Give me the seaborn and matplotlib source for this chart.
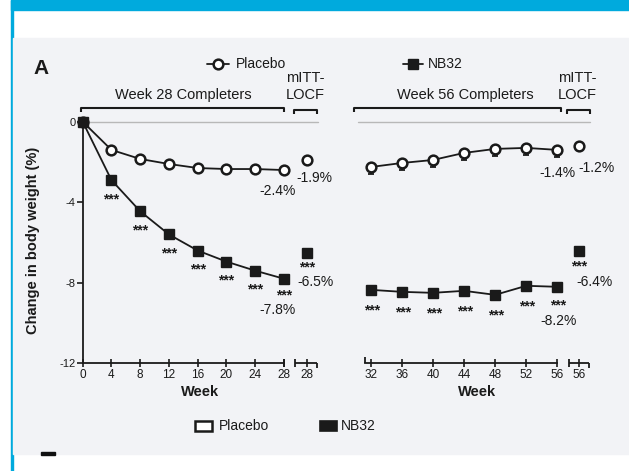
import matplotlib
matplotlib.use("Agg")
import matplotlib.pyplot as plt
import pandas as pd
import seaborn as sns
from matplotlib.lines import Line2D
from matplotlib.patches import Rectangle

# ---- data: mean change in body weight (%) ----
weeks_28 = [0, 4, 8, 12, 16, 20, 24, 28]
placebo_28 = [0.0, -1.4, -1.85, -2.1, -2.3, -2.35, -2.35, -2.4]
nb32_28 = [0.0, -2.9, -4.45, -5.6, -6.4, -6.95, -7.4, -7.8]

weeks_56 = [32, 36, 40, 44, 48, 52, 56]
placebo_56 = [-2.25, -2.05, -1.9, -1.55, -1.35, -1.3, -1.4]
placebo_56_sem = [0.35, 0.35, 0.35, 0.35, 0.35, 0.35, 0.35]
nb32_56 = [-8.35, -8.45, -8.5, -8.4, -8.6, -8.15, -8.2]

# mITT-LOCF endpoints (week 28, week 56)
locf_placebo = [-1.9, -1.2]
locf_nb32 = [-6.5, -6.4]

ticks_28 = ["0", "4", "8", "12", "16", "20", "24", "28", "28"]
ticks_56 = ["32", "36", "40", "44", "48", "52", "56", "56"]
yticks = [0, -4, -8, -12]
ytick_labels = ["0", "-4", "-8", "-12"]

sns.set_theme(style="white")
plt.rcParams["font.family"] = ["Liberation Sans", "DejaVu Sans"]

W, H = 629, 471
fig = plt.figure(figsize=(W / 100, H / 100), dpi=100)
fig.patch.set_facecolor("white")

INK = "#1a1a1a"
CYAN = "#00aadd"


def fx(x):
    return x / W


def fy(y):
    return 1 - y / H


# page decorations: banner, side rule, grey figure panel
fig.patches.append(Rectangle((fx(11), fy(10)), 1 - fx(11), 10 / H,
                             transform=fig.transFigure, color=CYAN, zorder=-2))
fig.patches.append(Rectangle((fx(10.5), 0), 2 / W, 1,
                             transform=fig.transFigure, color=CYAN, zorder=-2))
fig.patches.append(Rectangle((fx(13), fy(454)), 1 - fx(13), (454 - 38) / H,
                             transform=fig.transFigure, color="#f2f3f6", zorder=-2))
fig.patches.append(Rectangle((fx(41), fy(455)), 14 / W, 3 / H,
                             transform=fig.transFigure, color="#111111", zorder=-1))

# axes placement
y_lo, y_hi = -12, 0.2
ax1 = fig.add_axes([fx(82.7), fy(363.3), (318 - 82.7) / W, (363.3 - 117.7) / H])
ax2 = fig.add_axes([fx(365), fy(363.3), (590 - 365) / W, (363.3 - 117.7) / H])
for ax in (ax1, ax2):
    ax.set_facecolor("none")
    ax.set_ylim(y_lo, y_hi)
    for s in ("top", "right"):
        ax.spines[s].set_visible(False)

locf_x1 = 31.16
locf_x2 = 58.83
ax1.set_xlim(0, 32.73)
ax2.set_xlim(31.27, 60.19)

line_kw = dict(color=INK, linewidth=1.3)
pl_kw = dict(marker="o", markersize=7, markerfacecolor="white",
             markeredgecolor=INK, markeredgewidth=1.8)
nb_kw = dict(marker="s", markersize=6.5, markerfacecolor=INK,
             markeredgecolor=INK, markeredgewidth=1)

df28 = pd.DataFrame({"week": weeks_28, "placebo": placebo_28, "nb32": nb32_28})
df56 = pd.DataFrame({"week": weeks_56, "placebo": placebo_56, "nb32": nb32_56})

# zero reference lines
ax1.plot([0, 32.73], [0, 0], color="#b8b8b8", lw=1.0, zorder=1, clip_on=False)
ax2.plot([30.37, 60.19], [0, 0], color="#b8b8b8", lw=1.0, zorder=1, clip_on=False)

# completers curves
sns.lineplot(data=df28, x="week", y="placebo", ax=ax1, clip_on=False, zorder=3, **line_kw, **pl_kw)
sns.lineplot(data=df28, x="week", y="nb32", ax=ax1, clip_on=False, zorder=4, **line_kw, **nb_kw)
ax2.errorbar(weeks_56, placebo_56, yerr=[placebo_56_sem, [0] * len(weeks_56)],
             fmt="none", ecolor=INK, elinewidth=1.3, capsize=2.5, capthick=1.3, zorder=2)
sns.lineplot(data=df56, x="week", y="placebo", ax=ax2, clip_on=False, zorder=3, **line_kw, **pl_kw)
sns.lineplot(data=df56, x="week", y="nb32", ax=ax2, clip_on=False, zorder=4, **line_kw, **nb_kw)

# mITT-LOCF points
for ax, lx, i in ((ax1, locf_x1, 0), (ax2, locf_x2, 1)):
    ax.plot([lx], [locf_placebo[i]], linestyle="none", clip_on=False, zorder=3, **pl_kw)
    ax.plot([lx], [locf_nb32[i]], linestyle="none", clip_on=False, zorder=4, **nb_kw)

# significance stars beneath NB32 points
star_kw = dict(textcoords="offset pixels", ha="center", va="center",
               fontsize=10, color=INK, fontweight="bold")
for w, v in zip(weeks_28[1:-1], nb32_28[1:-1]):
    ax1.annotate("***", (w, v), xytext=(0, -19), **star_kw)
ax1.annotate("***", (weeks_28[-1], nb32_28[-1]), xytext=(0, -17), **star_kw)
for w, v in zip(weeks_56[:-1], nb32_56[:-1]):
    ax2.annotate("***", (w, v), xytext=(1, -21), **star_kw)
ax2.annotate("***", (weeks_56[-1], nb32_56[-1]), xytext=(1, -19), **star_kw)
ax1.annotate("***", (locf_x1, locf_nb32[0]), xytext=(0, -15), **star_kw)
ax2.annotate("***", (locf_x2, locf_nb32[1]), xytext=(0, -16), **star_kw)

# endpoint value labels
val_kw = dict(textcoords="offset pixels", ha="center", va="center",
              fontsize=10, color=INK)
ax1.annotate(f"{placebo_28[-1]:.1f}%", (weeks_28[-1], placebo_28[-1]), xytext=(-6, -21), **val_kw)
ax1.annotate(f"{nb32_28[-1]:.1f}%", (weeks_28[-1], nb32_28[-1]), xytext=(-6, -31), **val_kw)
ax1.annotate(f"{locf_placebo[0]:.1f}%", (locf_x1, locf_placebo[0]), xytext=(8, -18), **val_kw)
ax1.annotate(f"{locf_nb32[0]:.1f}%", (locf_x1, locf_nb32[0]), xytext=(9, -29), **val_kw)
ax2.annotate(f"{placebo_56[-1]:.1f}%", (weeks_56[-1], placebo_56[-1]), xytext=(0, -23), **val_kw)
ax2.annotate(f"{nb32_56[-1]:.1f}%", (weeks_56[-1], nb32_56[-1]), xytext=(1, -34), **val_kw)
ax2.annotate(f"{locf_placebo[1]:.1f}%", (locf_x2, locf_placebo[1]), xytext=(17, -22), **val_kw)
ax2.annotate(f"{locf_nb32[1]:.1f}%", (locf_x2, locf_nb32[1]), xytext=(15, -31), **val_kw)

# y axis (left panel only)
ax1.set_yticks(yticks)
ax1.set_yticklabels(ytick_labels)
ax1.spines["left"].set_color(INK)
ax1.spines["left"].set_linewidth(1.3)
ax1.tick_params(axis="y", direction="out", length=4, width=1.2, color=INK,
                labelsize=8, labelcolor=INK, pad=1, left=True)
ax2.spines["left"].set_visible(False)
ax2.set_yticks([])

# x axes with separate mITT-LOCF segment
ax1.set_xticks(weeks_28 + [locf_x1])
ax1.set_xticklabels(ticks_28)
ax2.set_xticks(weeks_56 + [locf_x2])
ax2.set_xticklabels(ticks_56)
ax1.spines["bottom"].set_bounds(0, 28)
ax2.spines["bottom"].set_bounds(31.27, 56)
for ax in (ax1, ax2):
    ax.spines["bottom"].set_color(INK)
    ax.spines["bottom"].set_linewidth(1.3)
    ax.tick_params(axis="x", direction="inout", length=6, width=1.2, color=INK,
                   labelsize=8.5, labelcolor=INK, pad=1, bottom=True)
    ax.set_xlabel("Week", fontsize=10.5, fontweight="bold", color=INK, labelpad=3)

seg_kw = dict(color=INK, lw=1.3, clip_on=False, solid_capstyle="butt")
ax1.plot([29.6, 32.6], [-12, -12], **seg_kw)
ax1.plot([29.6, 29.6], [-12.2, -11.8], **seg_kw)
ax1.plot([32.6, 32.6], [-12, -12.25], **seg_kw)
ax1.plot([28, 28], [-12.2, -11.8], **seg_kw)
ax2.plot([57.5, 60.1], [-12, -12], **seg_kw)
ax2.plot([57.5, 57.5], [-12.2, -11.8], **seg_kw)
ax2.plot([60.1, 60.1], [-12, -12.25], **seg_kw)
ax2.plot([31.27, 31.27], [-12, -11.7], **seg_kw)

ax1.set_ylabel("Change in body weight (%)", fontsize=10.5, fontweight="bold",
               color=INK, labelpad=14)
ax2.set_ylabel("")

# top brackets and group headings
br_kw = dict(color=INK, lw=1.5, clip_on=False, solid_capstyle="butt")


def bracket(ax, x0, x1, y, drop=0.22):
    ax.plot([x0, x0, x1, x1], [y - drop, y, y, y - drop], **br_kw)


bracket(ax1, -0.2, 28, 0.68)
bracket(ax1, 29.4, 32.6, 0.6)
bracket(ax2, 29.85, 56.4, 0.68)
bracket(ax2, 57.2, 60.2, 0.6)

head_kw = dict(ha="center", va="center", fontsize=10.5, color=INK)
ax1.text(14, 1.33, "Week 28 Completers", **head_kw)
ax2.text(44.1, 1.33, "Week 56 Completers", **head_kw)
ax1.text(31.0, 1.33, "LOCF", **head_kw)
ax1.text(31.0, 2.18, "mITT-", **head_kw)
ax2.text(58.6, 1.33, "LOCF", **head_kw)
ax2.text(58.6, 2.18, "mITT-", **head_kw)

# panel letter
fig.text(fx(41), fy(69), "A", fontsize=15, fontweight="bold", color=INK,
         ha="center", va="center")

# top legend (line + marker)
fig.lines.append(Line2D([fx(207), fx(229)], [fy(64), fy(64)], transform=fig.transFigure, **line_kw))
fig.lines.append(Line2D([fx(218)], [fy(64)], transform=fig.transFigure, **pl_kw))
fig.text(fx(236), fy(64), "Placebo", fontsize=10, color=INK, va="center", ha="left")
fig.lines.append(Line2D([fx(403), fx(423)], [fy(64), fy(64)], transform=fig.transFigure, **line_kw))
fig.lines.append(Line2D([fx(413)], [fy(64)], transform=fig.transFigure, **nb_kw))
fig.text(fx(428), fy(64), "NB32", fontsize=10, color=INK, va="center", ha="left")

# bottom legend (boxes)
fig.patches.append(Rectangle((fx(195), fy(431)), 17 / W, 10 / H, transform=fig.transFigure,
                             facecolor="white", edgecolor=INK, lw=1.8, zorder=2))
fig.text(fx(219), fy(426), "Placebo", fontsize=10, color=INK, va="center", ha="left")
fig.patches.append(Rectangle((fx(320), fy(431)), 17 / W, 10 / H, transform=fig.transFigure,
                             facecolor=INK, edgecolor=INK, lw=1.2, zorder=2))
fig.text(fx(341), fy(426), "NB32", fontsize=10, color=INK, va="center", ha="left")

fig.savefig("out.png", dpi=100, facecolor=fig.get_facecolor())
